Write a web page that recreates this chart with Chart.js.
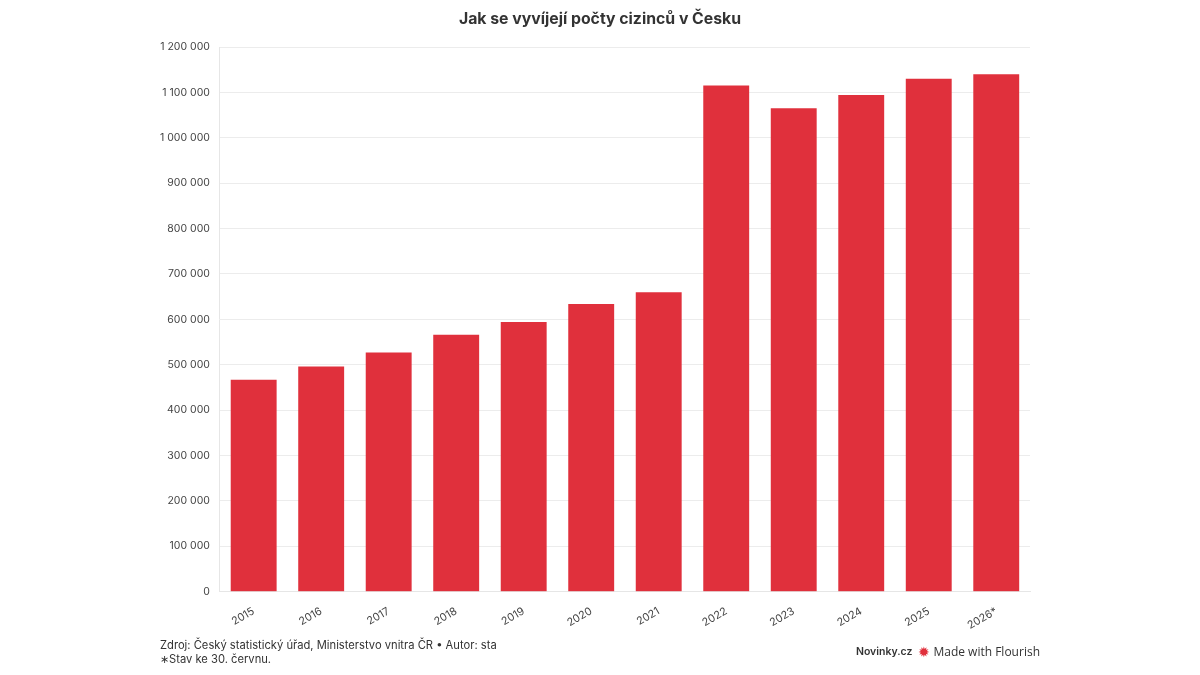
<!DOCTYPE html>
<html lang="cs">
<head>
<meta charset="utf-8">
<title>Jak se vyvíjejí počty cizinců v Česku</title>
<script src="https://cdn.jsdelivr.net/npm/chart.js@4.4.1/dist/chart.umd.min.js"></script>
<style>
    html, body { margin: 0; padding: 0; background: #fff; }
    body { width: 1200px; height: 675px; position: relative; overflow: hidden; font-family: Inter, "Noto Sans", sans-serif; }
    #wrap { position: absolute; left: 0; top: 0; width: 1200px; height: 675px; }
    h1 { position: absolute; left: 0; top: 9px; width: 1200px; margin: 0; text-align: center; font-size: 15.8px; font-weight: 700; color: #333; }
    .note { position: absolute; left: 160px; font-size: 11.2px; color: #333; }
    #brand { position: absolute; right: 160px; top: 643px; font-size: 10.5px; color: #333; display: flex; align-items: center; }
    #brand b { font-weight: 600; margin-right: 6px; }
    #brand .star { color: #e0303c; font-size: 14px; margin-right: 3px; }
    #brand .fl { font-family: "Liberation Sans Narrow", "Open Sans", sans-serif; font-size: 12px; }
</style>
</head>
<body>
<div id="wrap"><canvas id="barChart"></canvas></div>
<h1>Jak se vyvíjejí počty cizinců v Česku</h1>
<div class="note" style="top: 638px;">Zdroj: Český statistický úřad, Ministerstvo vnitra ČR • Autor: sta</div>
<div class="note" style="top: 652px;">∗Stav ke 30. červnu.</div>
<div id="brand"><b>Novinky.cz</b><span class="star">✹</span><span class="fl">Made with Flourish</span></div>
<script>
const years = ["2015", "2016", "2017", "2018", "2019", "2020", "2021", "2022", "2023", "2024", "2025", "2026*"];
const foreigners = [467000, 496000, 527000, 566000, 594000, 634000, 660000, 1115000, 1065000, 1094000, 1130000, 1140000];
const yTicks = [0, 100000, 200000, 300000, 400000, 500000, 600000, 700000, 800000, 900000, 1000000, 1100000, 1200000];

// mezery jako oddělovač tisíců
function formatNum(v) {
    return String(v).replace(/\B(?=(\d{3})+(?!\d))/g, " ");
}

document.addEventListener("DOMContentLoaded", () => {
    const ctx = document.getElementById("barChart").getContext("2d");
    new Chart(ctx, {
        type: "bar",
        data: {
            labels: years,
            datasets: [{
                label: "Počet cizinců",
                data: foreigners,
                backgroundColor: "#e0303c",
                barPercentage: 0.68,
                categoryPercentage: 1.0
            }]
        },
        options: {
            responsive: true,
            maintainAspectRatio: false,
            animation: false,
            layout: { padding: { left: 150, right: 170, top: 47, bottom: 38 } },
            plugins: {
                legend: { display: false },
                tooltip: { enabled: false }
            },
            scales: {
                x: {
                    grid: { display: false },
                    border: { color: "#e6e6e6" },
                    ticks: {
                        color: "#444",
                        font: { family: "Inter", size: 10.8 },
                        minRotation: 30,
                        maxRotation: 30,
                        padding: 5
                    }
                },
                y: {
                    min: 0,
                    max: 1200000,
                    afterBuildTicks: axis => { axis.ticks = yTicks.map(v => ({ value: v })); },
                    grid: { color: "#ececec", drawTicks: false },
                    border: { color: "#e6e6e6" },
                    ticks: {
                        color: "#444",
                        font: { family: "Inter", size: 10.5 },
                        padding: 10,
                        callback: v => formatNum(v)
                    }
                }
            }
        }
    });
});
</script>
</body>
</html>
